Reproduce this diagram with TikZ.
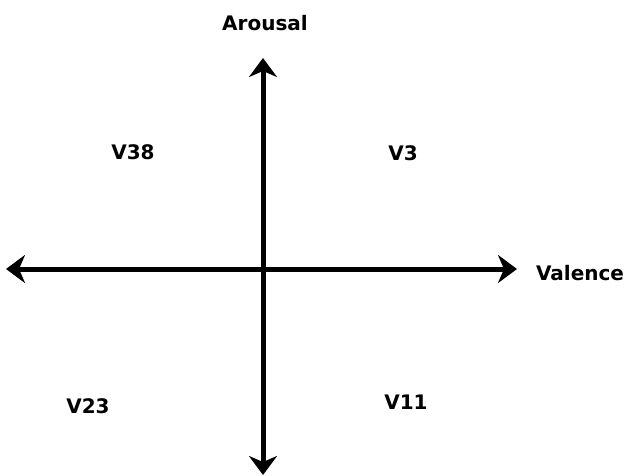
\documentclass[tikz,border=0pt]{standalone}
\usepackage{fontspec}
\setmainfont{DejaVu Sans}
\usepackage{tikz}
\usetikzlibrary{arrows.meta,positioning}
\tikzset{
    axis/.style={line width=5pt,{Stealth[length=19pt,width=28pt,inset=6pt]}-{Stealth[length=19pt,width=28pt,inset=6pt]}},
    axislabel/.style={font=\bfseries\fontsize{20}{24}\selectfont, inner sep=0pt},
    video/.style={font=\bfseries\fontsize{20}{24}\selectfont, inner sep=0pt}
}
\begin{document}
\begin{tikzpicture}[x=1pt,y=-1pt]
\useasboundingbox (0,0) rectangle (627,475);

% ---- Axis ends ----
\coordinate (top) at (263, 58);
\coordinate (bottom) at (263, 475);
\coordinate (left) at (6, 269);
\coordinate (right) at (517, 269);

% ---- Axis labels ----
\node[axislabel] (arousal) at (265, 23) {Arousal};
\node[axislabel] (valence) at (580, 273) {Valence};

% ---- Quadrant videos ----
\node[video] (v38) at (133, 152) {V38};
\node[video] (v3)  at (403, 153) {V3};
\node[video] (v23) at (88,  406) {V23};
\node[video] (v11) at (406, 402) {V11};

% Axes
\draw[axis] (bottom) -- (top);
\draw[axis] (left) -- (right);

\end{tikzpicture}
\end{document}
